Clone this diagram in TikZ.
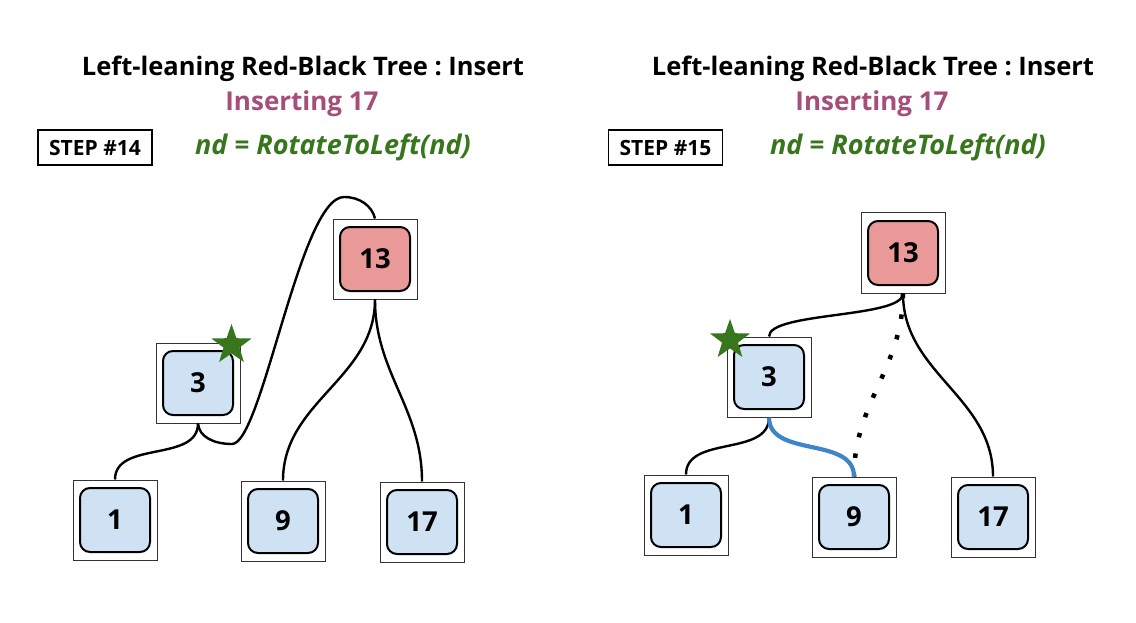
\documentclass[tikz,border=0pt]{standalone}
\usepackage{fontspec}
\setmainfont{Open Sans}
\usetikzlibrary{shapes.geometric}
\definecolor{keyblue}{HTML}{CFE2F3}
\definecolor{keyred}{HTML}{EA9999}
\definecolor{stargreen}{HTML}{38761D}
\definecolor{titlepink}{HTML}{A64D79}
\definecolor{linkblue}{HTML}{3D85C6}
\frenchspacing
\tikzset{
  outerbox/.style={draw=black!80, line width=1pt, fill=white,
    minimum width=84pt, minimum height=80pt, inner sep=0pt},
  keybox/.style={draw=black, line width=2pt, rounded corners=10pt,
    minimum width=70pt, minimum height=64pt, inner sep=0pt,
    font=\fontsize{27.5}{32}\selectfont\bfseries},
  link/.style={line width=2.4pt, black},
  steplabel/.style={draw=black, line width=1.6pt, minimum width=114pt,
    minimum height=35pt, inner sep=0pt,
    font=\fontsize{21}{25}\selectfont\bfseries},
  titletext/.style={font=\fontsize{25.5}{30}\selectfont\bfseries},
  subtitle/.style={font=\fontsize{26}{31}\selectfont\bfseries, text=titlepink},
  codetext/.style={font=\fontsize{27}{32}\selectfont\bfseries\itshape, text=stargreen},
  marker/.style={star, star points=5, star point ratio=2.5, minimum size=42pt,
    inner sep=0pt, fill=stargreen}
}
\begin{document}
\begin{tikzpicture}[x=1pt, y=-1pt]
    \useasboundingbox (0,0) rectangle (1136,623);
    % step 14
    \node[titletext] (T14) at (303,69) {Left-leaning Red-Black Tree : Insert};
    \node[subtitle] (S14) at (302,104) {Inserting 17};
    \node[steplabel] (B14) at (95,147.5) {STEP \#14};
    \node[codetext] (C14) at (333,147) {nd = RotateToLeft(nd)};
    \node[outerbox] (L13) at (375,259) {};
    \node[outerbox] (L3) at (198,383) {};
    \node[outerbox] (L1) at (115,520) {};
    \node[outerbox] (L9) at (283,521) {};
    \node[outerbox] (L17) at (422,522) {};
    \path (L3.south) edge [link, out=-90, in=90] (L1.north);
    \path (L13.south) edge [link, out=-90, in=90] (L9.north);
    \path (L13.south) edge [link, out=-90, in=90] (L17.north);
    \draw[link] (L3.south) .. controls (199,437) and (214,444) .. (232,444)
      .. controls (262,444) and (300,197) .. (344,197)
      .. controls (360,197) and (372,206) .. (L13.north);
    \node[keybox, fill=keyred] (L13k) at (L13) {13};
    \node[keybox, fill=keyblue] (L3k) at (L3) {3};
    \node[keybox, fill=keyblue] (L1k) at (L1) {1};
    \node[keybox, fill=keyblue] (L9k) at (L9) {9};
    \node[keybox, fill=keyblue] (L17k) at (L17) {17};
    \node[marker] (Lstar) at (231.5,345) {};
    % step 15
    \node[titletext] (T15) at (873,69) {Left-leaning Red-Black Tree : Insert};
    \node[subtitle] (S15) at (872,104) {Inserting 17};
    \node[steplabel] (B15) at (665.5,147.5) {STEP \#15};
    \node[codetext] (C15) at (908,147) {nd = RotateToLeft(nd)};
    \node[outerbox] (R13) at (903,253) {};
    \node[outerbox] (R3) at (769,377) {};
    \node[outerbox] (R1) at (686,515) {};
    \node[outerbox] (R9) at (854,517) {};
    \node[outerbox] (R17) at (993,517) {};
    \path (R13.south) edge [line width=4.5pt, dash pattern=on 4.5pt off 16.5pt,
      out=-90, in=90] (R9.north);
    \path (R13.south) edge [link, out=-90, in=90, looseness=0.45] (R3.north);
    \path (R13.south) edge [link, out=-90, in=90] (R17.north);
    \path (R3.south) edge [link, out=-90, in=90] (R1.north);
    \path (R3.south) edge [link, line width=4.2pt, linkblue, out=-90, in=90] (R9.north);
    \node[keybox, fill=keyred] (R13k) at (R13) {13};
    \node[keybox, fill=keyblue] (R3k) at (R3) {3};
    \node[keybox, fill=keyblue] (R1k) at (R1) {1};
    \node[keybox, fill=keyblue] (R9k) at (R9) {9};
    \node[keybox, fill=keyblue] (R17k) at (R17) {17};
    \node[marker] (Rstar) at (730,340) {};
\end{tikzpicture}
\end{document}
